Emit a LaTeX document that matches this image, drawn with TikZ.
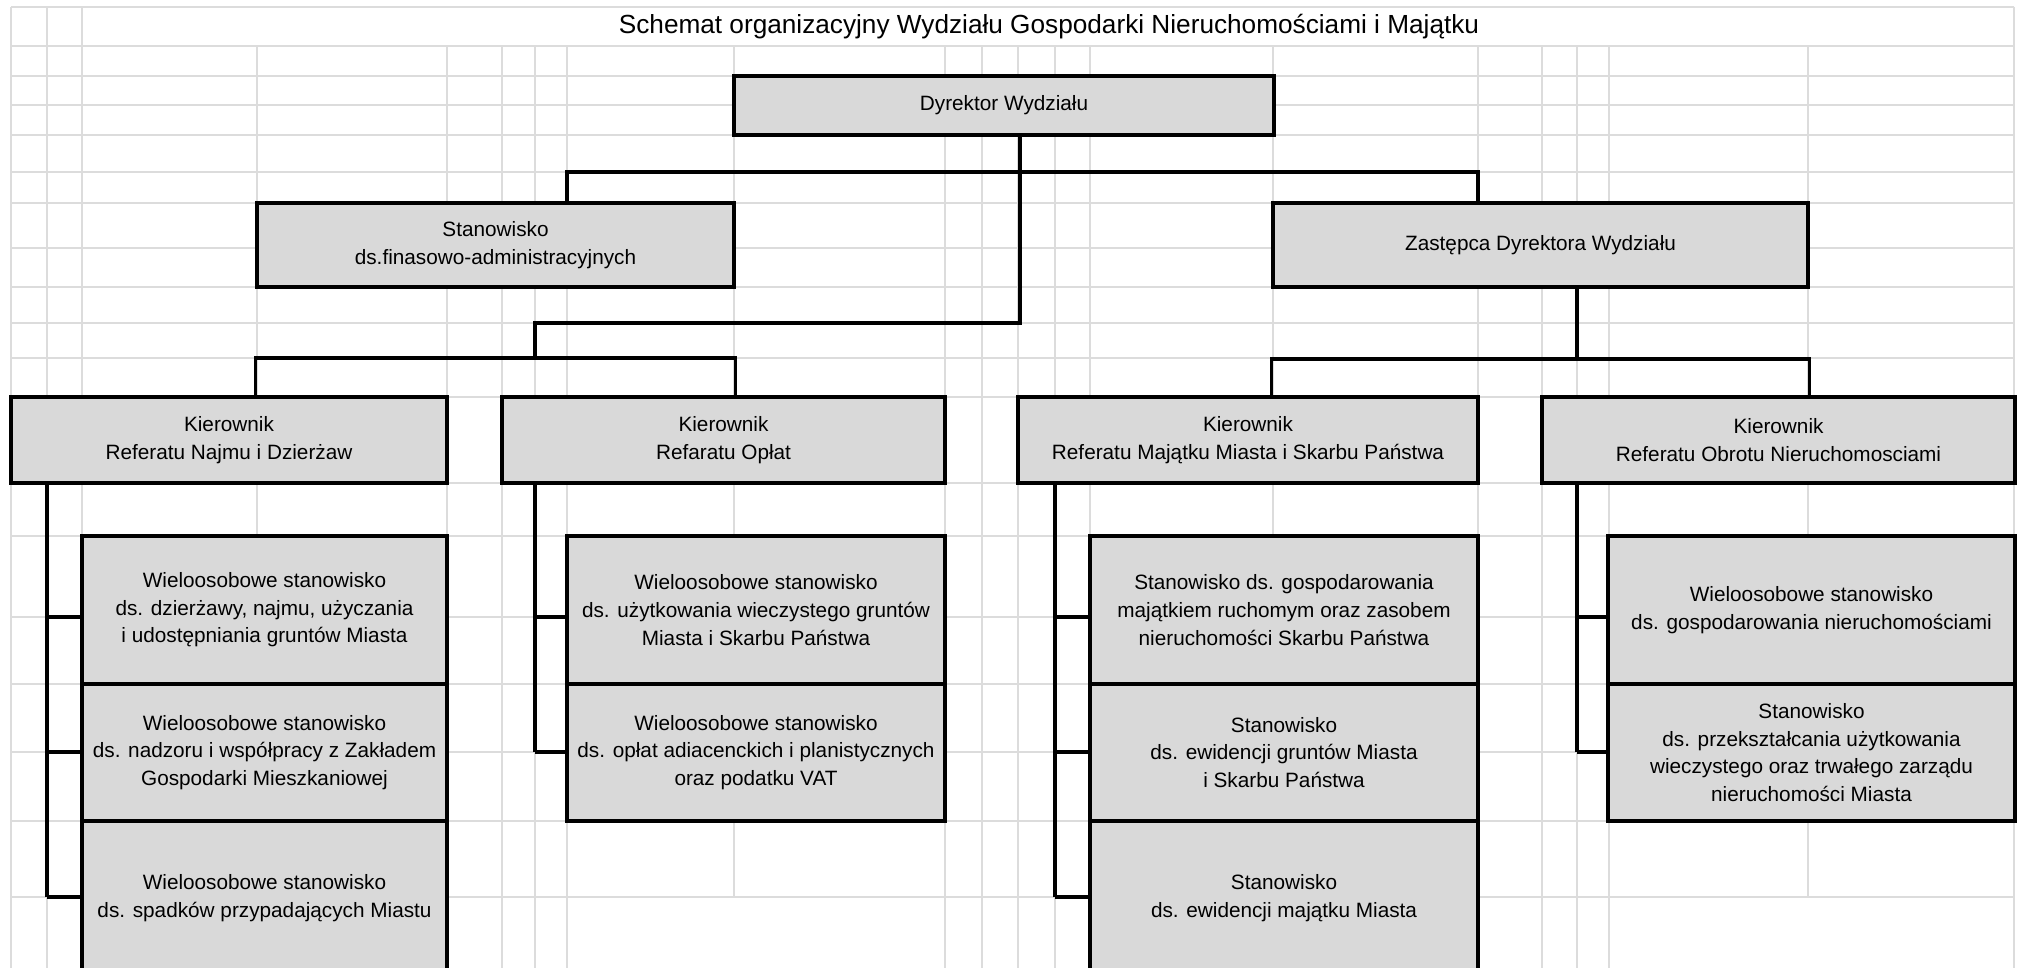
\documentclass[tikz,border=0pt]{standalone}
\usepackage{fontspec}
\setmainfont{Liberation Sans}
\definecolor{boxgray}{HTML}{D9D9D9}
\definecolor{gridgray}{HTML}{DCDCDC}

\begin{document}
\begin{tikzpicture}[x=0.01cm,y=-0.01cm,
  box/.style={draw,fill=boxgray,line width=0.95pt,inner sep=0pt,align=center,font=\fontsize{5.9}{7.86}\selectfont},
  wh/.style 2 args={minimum width=#1*0.01cm,minimum height=#2*0.01cm},
  link/.style={line width=0.95pt},
  gridline/.style={gridgray,line width=0.5pt}]
\useasboundingbox (0,0) rectangle (2019,968);
\clip (0,0) rectangle (2019,968);
% sheet grid
\draw[gridline] (11,6.7) -- (2014,6.7);
\foreach \x in {11,47,82,2014} \draw[gridline] (\x,6.7) -- (\x,968);
\foreach \x in {257,447,502,535,567,945,982,1018,1055,1090,1273,1478,1542,1577,1609}
  \draw[gridline] (\x,45.7) -- (\x,968);
\foreach \x in {734,1808} \draw[gridline] (\x,45.7) -- (\x,897);
\foreach \y in {45.7,76,105,135,172,203,248,287,323,358,397,483,536,617,684,752,821,897}
  \draw[gridline] (11,\y) -- (2014,\y);
\node[font=\fontsize{7.45}{9}\selectfont] (title) at (1049,27)
  {Schemat organizacyjny Wydziału Gospodarki Nieruchomościami i Majątku};
% top levels
\node[box,wh={540}{59}] (dyr) at (1004,105.5) {Dyrektor Wydziału};
\node[box,wh={477}{84}] (fin) at (495.5,245) {Stanowisko\\ds.finasowo-administracyjnych};
\node[box,wh={535}{84}] (zast) at (1540.5,245) {Zastępca Dyrektora Wydziału};
\node[box,wh={436}{86}] (kA) at (229,440) {Kierownik\\Referatu Najmu i Dzierżaw};
\node[box,wh={443}{86}] (kB) at (723.5,440) {Kierownik\\Refaratu Opłat};
\node[box,wh={460}{86}] (kC) at (1248,440) {Kierownik\\Referatu Majątku Miasta i Skarbu Państwa};
\node[box,wh={473}{86}] (kD) at (1778.5,440) {Kierownik\\Referatu Obrotu Nieruchomosciami};
% posts
\node[box,wh={365}{148}] (A1) at (264.5,610) {Wieloosobowe stanowisko\\ds. dzierżawy, najmu, użyczania\\i udostępniania gruntów Miasta};
\node[box,wh={365}{137}] (A2) at (264.5,752.5) {Wieloosobowe stanowisko\\ds. nadzoru i współpracy z Zakładem\\Gospodarki Mieszkaniowej};
\node[box,wh={365}{154}] (A3) at (264.5,898) {Wieloosobowe stanowisko\\ds. spadków przypadających Miastu};
\node[box,wh={378}{148}] (B1) at (756,610) {Wieloosobowe stanowisko\\ds. użytkowania wieczystego gruntów\\Miasta i Skarbu Państwa};
\node[box,wh={378}{137}] (B2) at (756,752.5) {Wieloosobowe stanowisko\\ds. opłat adiacenckich i planistycznych\\oraz podatku VAT};
\node[box,wh={388}{148}] (C1) at (1284,610) {Stanowisko ds. gospodarowania\\majątkiem ruchomym oraz zasobem\\nieruchomości Skarbu Państwa};
\node[box,wh={388}{137}] (C2) at (1284,752.5) {Stanowisko\\ds. ewidencji gruntów Miasta\\i Skarbu Państwa};
\node[box,wh={388}{154}] (C3) at (1284,898) {Stanowisko\\ds. ewidencji majątku Miasta};
\node[box,wh={407}{148}] (D1) at (1811.5,610) {Wieloosobowe stanowisko\\ds. gospodarowania nieruchomościami};
\node[box,wh={407}{137}] (D2) at (1811.5,752.5) {Stanowisko\\ds. przekształcania użytkowania\\wieczystego oraz trwałego zarządu\\nieruchomości Miasta};
% links
\coordinate (jtop) at (1020,172);
\coordinate (jmid) at (1020,323);
\coordinate (jfin) at (567,172);
\coordinate (jzast) at (1478,172);
\coordinate (jleft) at (535,358);
\coordinate (jright) at (1577,359);
\draw[link] (jtop |- dyr.south) -- (jmid) -| (jleft);
\draw[link] (jfin |- fin.north) -- (jfin) -- (jzast) -- (jzast |- zast.north);
\draw[link] (kA.north -| fin.west) |- (jleft) -| (kB.north -| fin.east);
\draw[link] (jright |- zast.south) -- (jright);
\draw[link] (kC.north -| zast.west) |- (jright) -| (kD.north -| zast.east);
\coordinate (sA) at (47,0);
\coordinate (sB) at (535,0);
\coordinate (sC) at (1055,0);
\coordinate (sD) at (1577,0);
\coordinate (r1) at (0,617);
\coordinate (r2) at (0,752);
\coordinate (r3) at (0,897);
\foreach \c/\last in {A/3,B/2,C/3,D/2} {
  \draw[link] (s\c |- k\c.south) -- (s\c |- r\last);
  \foreach \r in {1,...,\last} \draw[link] (s\c |- r\r) -- (\c\r.west |- r\r);
}
\end{tikzpicture}
\end{document}
